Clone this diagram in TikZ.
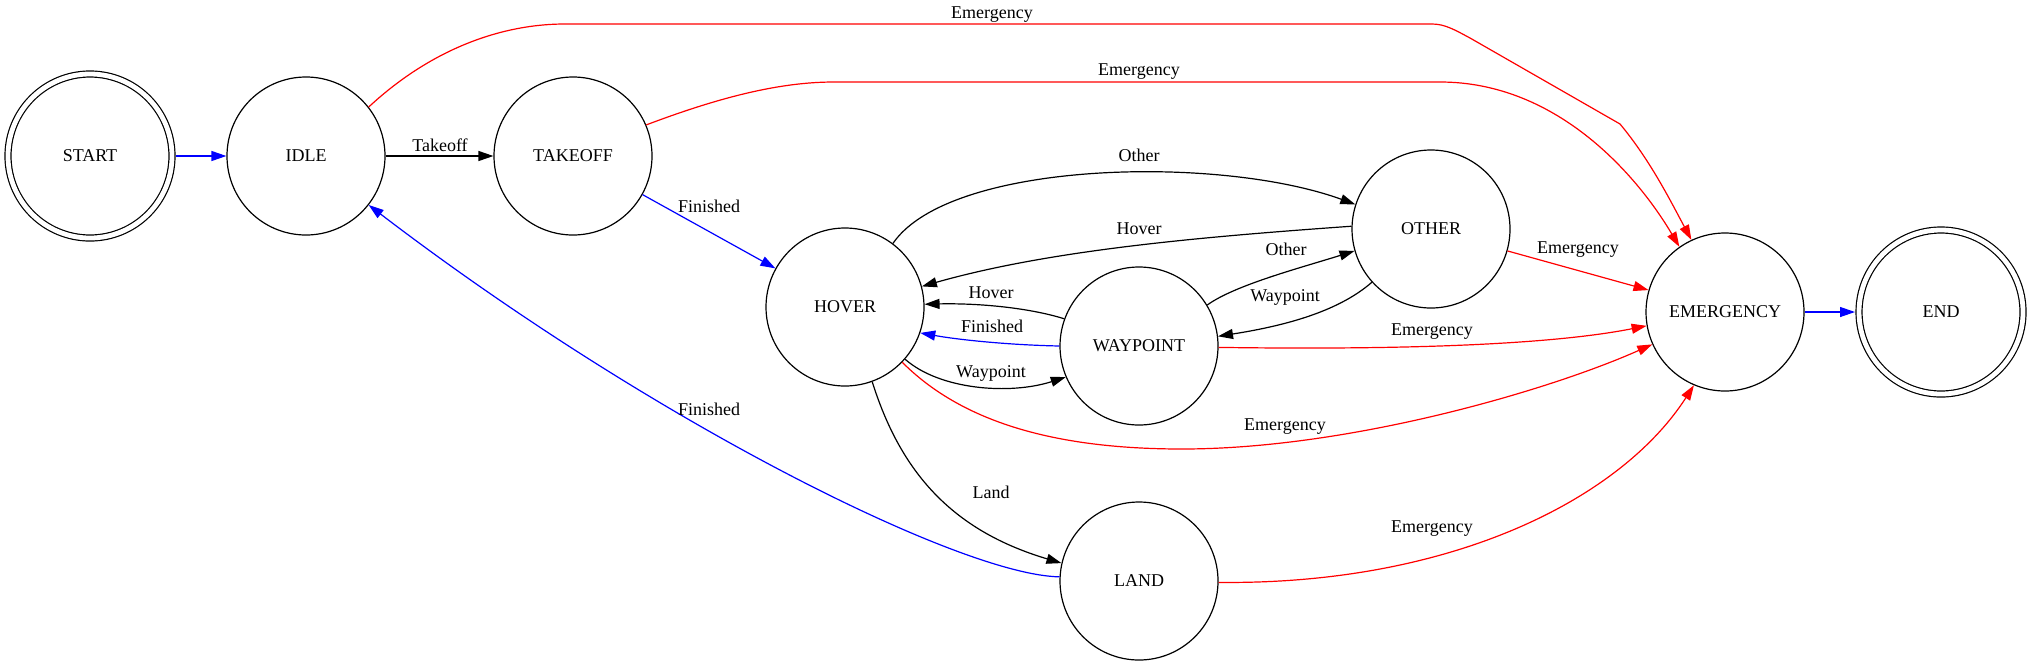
\documentclass[tikz,border=0pt]{standalone}
\usepackage{fontspec}
\setmainfont{Liberation Serif}
\usepackage{tikz}
\usetikzlibrary{arrows.meta, positioning}

\begin{document}
\begin{tikzpicture}[
  x=0.5pt, y=-0.5pt,
  state/.style={draw, circle, minimum size=79pt, inner sep=0pt, line width=0.6pt,
                font=\fontsize{9}{10}\selectfont},
  terminal/.style={state, minimum size=82pt, double, double distance=2.4pt, outer sep=2pt},
  arrow/.style={-{Triangle[length=7.5pt, width=5pt]}, line width=0.6pt},
  ok/.style={arrow, blue},
  fail/.style={arrow, red},
  lbl/.style={font=\fontsize{9}{10}\selectfont, inner sep=0pt}
]
  \useasboundingbox (0,0) rectangle (2032,665);

  \node[terminal] (start) at (90,156) {START};
  \node[state] (idle) at (306,156) {IDLE};
  \node[state] (takeoff) at (573,156) {TAKEOFF};
  \node[state] (hover) at (845,307) {HOVER};
  \node[state] (waypoint) at (1139,346) {WAYPOINT};
  \node[state] (other) at (1431,229) {OTHER};
  \node[state] (land) at (1139,581) {LAND};
  \node[state] (emerg) at (1725,312) {EMERGENCY};
  \node[terminal] (final) at (1941,312) {END};

  \draw[ok] (start) -- (idle);
  \draw[arrow] (idle) -- (takeoff);
  \draw[ok] (takeoff) -- (hover);
  \draw[ok] (emerg) -- (final);

  % emergency exits
  \draw[fail] (idle.38) .. controls (430,50) and (500,24) .. (565,24) -- (1432,24)
    .. controls (1445,24) and (1455,30) .. (1470,38) -- (1620,124)
    .. controls (1650,160) and (1670,200) .. (emerg.115);
  \draw[fail] (takeoff.23) .. controls (720,97) and (780,82) .. (834,82) -- (1440,82)
    .. controls (1560,82) and (1640,180) .. (emerg.125);
  \draw[fail] (hover.316) .. controls (960,420) and (1050,449) .. (1182,449)
    .. controls (1350,449) and (1550,390) .. (emerg.204);
  \draw[fail] (waypoint.359) .. controls (1400,350) and (1550,345) .. (emerg.190);
  \draw[fail] (other.344) -- (emerg.164);
  \draw[fail] (land.359) .. controls (1450,585) and (1620,500) .. (emerg.247);

  % flight modes
  \draw[arrow] (hover.53) .. controls (950,160) and (1220,155) .. (other.162);
  \draw[arrow] (other.178) .. controls (1200,237) and (1050,250) .. (hover.15);
  \draw[arrow] (waypoint.31) .. controls (1235,285) and (1300,268) .. (other.196);
  \draw[arrow] (other.222) .. controls (1340,310) and (1290,325) .. (waypoint.7);
  \draw[arrow] (waypoint.160) .. controls (1030,308) and (980,303) .. (hover.2);
  \draw[ok] (waypoint.180) .. controls (1010,345) and (960,340) .. (hover.341);
  \draw[arrow] (hover.319) .. controls (940,390) and (1010,395) .. (waypoint.203);
  \draw[arrow] (hover.290) .. controls (900,470) and (950,530) .. (land.167);
  \draw[ok] (land.177) .. controls (960,575) and (650,420) .. (idle.322);

  \node[lbl] (l1) at (440,145) {Takeoff};
  \node[lbl] (l2) at (992,15) {Emergency};
  \node[lbl] (l3) at (1139,72) {Emergency};
  \node[lbl] (l4) at (709,206) {Finished};
  \node[lbl] (l5) at (1139,155) {Other};
  \node[lbl] (l6) at (1139,229) {Hover};
  \node[lbl] (l7) at (1286,249) {Other};
  \node[lbl] (l8) at (1285,297) {Waypoint};
  \node[lbl] (l9) at (991,293) {Hover};
  \node[lbl] (l10) at (992,326) {Finished};
  \node[lbl] (l11) at (991,373) {Waypoint};
  \node[lbl] (l12) at (1285,427) {Emergency};
  \node[lbl] (l13) at (1432,332) {Emergency};
  \node[lbl] (l14) at (1578,250) {Emergency};
  \node[lbl] (l15) at (991,492) {Land};
  \node[lbl] (l16) at (709,409) {Finished};
  \node[lbl] (l17) at (1432,529) {Emergency};
\end{tikzpicture}
\end{document}
